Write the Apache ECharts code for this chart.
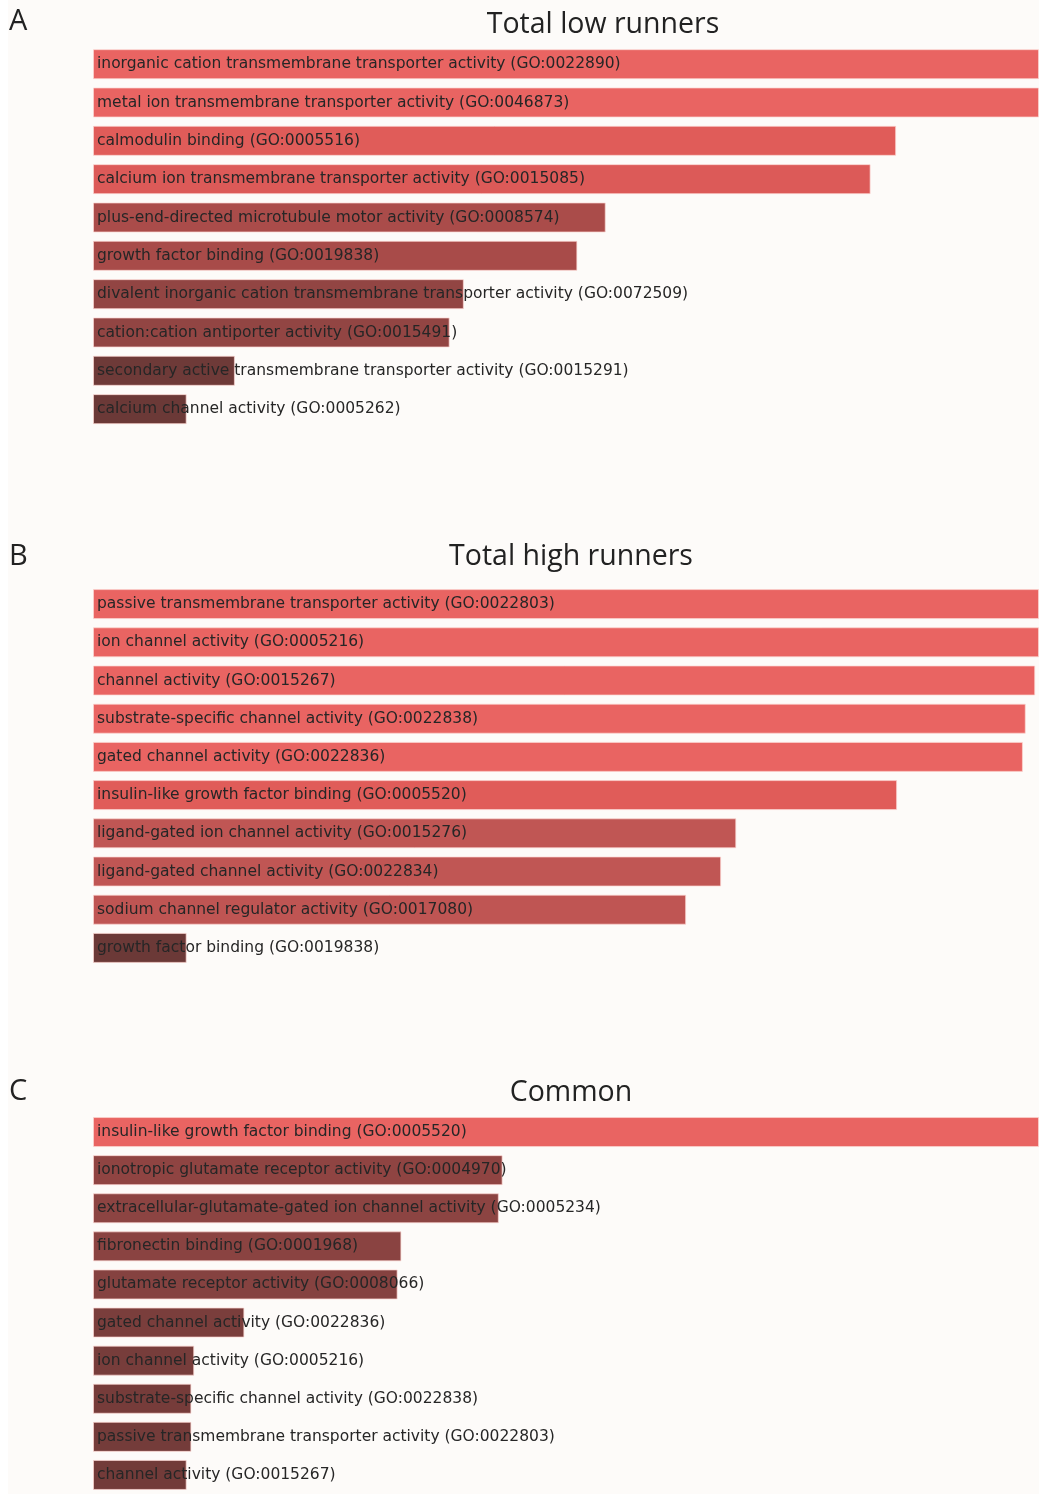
<!DOCTYPE html>
<html>
<head>
<meta charset="utf-8">
<title>GO molecular function enrichment</title>
<script src="https://cdn.jsdelivr.net/npm/echarts@6/dist/echarts.min.js"></script>
<style>
  html, body { margin: 0; padding: 0; background: #ffffff; }
  #chart { width: 1039px; height: 1494px; }
</style>
</head>
<body>
<div id="chart"></div>
<script>
// Enriched GO terms (molecular function), top 10 per group, relative score (0-100)
const lowTerms = [
  'inorganic cation transmembrane transporter activity (GO:0022890)',
  'metal ion transmembrane transporter activity (GO:0046873)',
  'calmodulin binding (GO:0005516)',
  'calcium ion transmembrane transporter activity (GO:0015085)',
  'plus-end-directed microtubule motor activity (GO:0008574)',
  'growth factor binding (GO:0019838)',
  'divalent inorganic cation transmembrane transporter activity (GO:0072509)',
  'cation:cation antiporter activity (GO:0015491)',
  'secondary active transmembrane transporter activity (GO:0015291)',
  'calcium channel activity (GO:0005262)'
];
const lowScores = [100, 100, 84.9, 82.2, 54.2, 51.2, 39.2, 37.7, 15.0, 9.9];

const highTerms = [
  'passive transmembrane transporter activity (GO:0022803)',
  'ion channel activity (GO:0005216)',
  'channel activity (GO:0015267)',
  'substrate-specific channel activity (GO:0022838)',
  'gated channel activity (GO:0022836)',
  'insulin-like growth factor binding (GO:0005520)',
  'ligand-gated ion channel activity (GO:0015276)',
  'ligand-gated channel activity (GO:0022834)',
  'sodium channel regulator activity (GO:0017080)',
  'growth factor binding (GO:0019838)'
];
const highScores = [100, 100, 99.6, 98.6, 98.3, 85.0, 68.0, 66.4, 62.7, 9.9];

const commonTerms = [
  'insulin-like growth factor binding (GO:0005520)',
  'ionotropic glutamate receptor activity (GO:0004970)',
  'extracellular-glutamate-gated ion channel activity (GO:0005234)',
  'fibronectin binding (GO:0001968)',
  'glutamate receptor activity (GO:0008066)',
  'gated channel activity (GO:0022836)',
  'ion channel activity (GO:0005216)',
  'substrate-specific channel activity (GO:0022838)',
  'passive transmembrane transporter activity (GO:0022803)',
  'channel activity (GO:0015267)'
];
const commonScores = [100, 43.3, 42.9, 32.6, 32.2, 16.0, 10.7, 10.4, 10.4, 9.9];

// Bar fill colours (significance shading, brightest = most significant)
const lowColors = ['#e96462', '#e96462', '#e05c59', '#dc5a58', '#aa4c4a',
                   '#a84b49', '#924543', '#924543', '#6e3a38', '#6b3937'];
const highColors = ['#e96462', '#e96462', '#e96462', '#e96462', '#e96462',
                    '#e05c59', '#c05654', '#c05654', '#bf5553', '#6b3937'];
const commonColors = ['#e96462', '#8f4442', '#8c4442', '#8a4341', '#854240',
                      '#7a3e3c', '#773d3b', '#763c3a', '#743c3a', '#723b39'];

const panels = [
  { letter: 'A', title: 'Total low runners', terms: lowTerms, scores: lowScores, colors: lowColors,
    top: 45, height: 383.3, titleY: 25, titleX: 603, letterY: 23 },
  { letter: 'B', title: 'Total high runners', terms: highTerms, scores: highScores, colors: highColors,
    top: 585, height: 382, titleY: 557, titleX: 571, letterY: 558 },
  { letter: 'C', title: 'Common', terms: commonTerms, scores: commonScores, colors: commonColors,
    top: 1113, height: 383.3, titleY: 1093, titleX: 571, letterY: 1093 }
];

const labelFont = 'DejaVu Sans';
const titleFont = '"Open Sans", "Noto Sans", sans-serif';

const chart = echarts.init(document.getElementById('chart'), null, { renderer: 'canvas' });

const grid = [], xAxis = [], yAxis = [], series = [], title = [];
const graphic = [{
  type: 'rect', z: -10, silent: true,
  shape: { x: 8, y: 0, width: 1031, height: 1494 },
  style: { fill: '#fdfbf9' }
}];

panels.forEach((p, i) => {
  grid.push({ left: 93, right: 0, top: p.top, height: p.height, containLabel: false });
  xAxis.push({
    gridIndex: i, type: 'value', min: 0, max: 100,
    show: false, splitLine: { show: false }
  });
  yAxis.push({
    gridIndex: i, type: 'category', data: p.terms, inverse: true,
    show: false
  });
  series.push({
    type: 'bar', xAxisIndex: i, yAxisIndex: i,
    barWidth: 30,
    data: p.scores.map((v, k) => ({ value: v, itemStyle: { color: p.colors[k] } })),
    itemStyle: { borderColor: 'rgba(252,214,210,0.7)', borderWidth: 1 },
    label: {
      show: true, position: 'insideLeft', distance: 4,
      formatter: (prm) => p.terms[prm.dataIndex],
      color: '#262626', fontFamily: labelFont, fontSize: 15.5
    },
    silent: true, animation: false
  });
  title.push({
    text: p.title, left: p.titleX, top: p.titleY, textAlign: 'center', textVerticalAlign: 'middle',
    padding: 0,
    textStyle: { fontFamily: titleFont, fontSize: 28.5, fontWeight: 'normal', color: '#222' }
  });
  graphic.push({
    type: 'text', left: 9, top: p.letterY - 16,
    style: { text: p.letter, font: '29px ' + titleFont, fill: '#222' }
  });
});

chart.setOption({
  backgroundColor: '#ffffff',
  animation: false,
  title, grid, xAxis, yAxis, series, graphic
});
</script>
</body>
</html>
